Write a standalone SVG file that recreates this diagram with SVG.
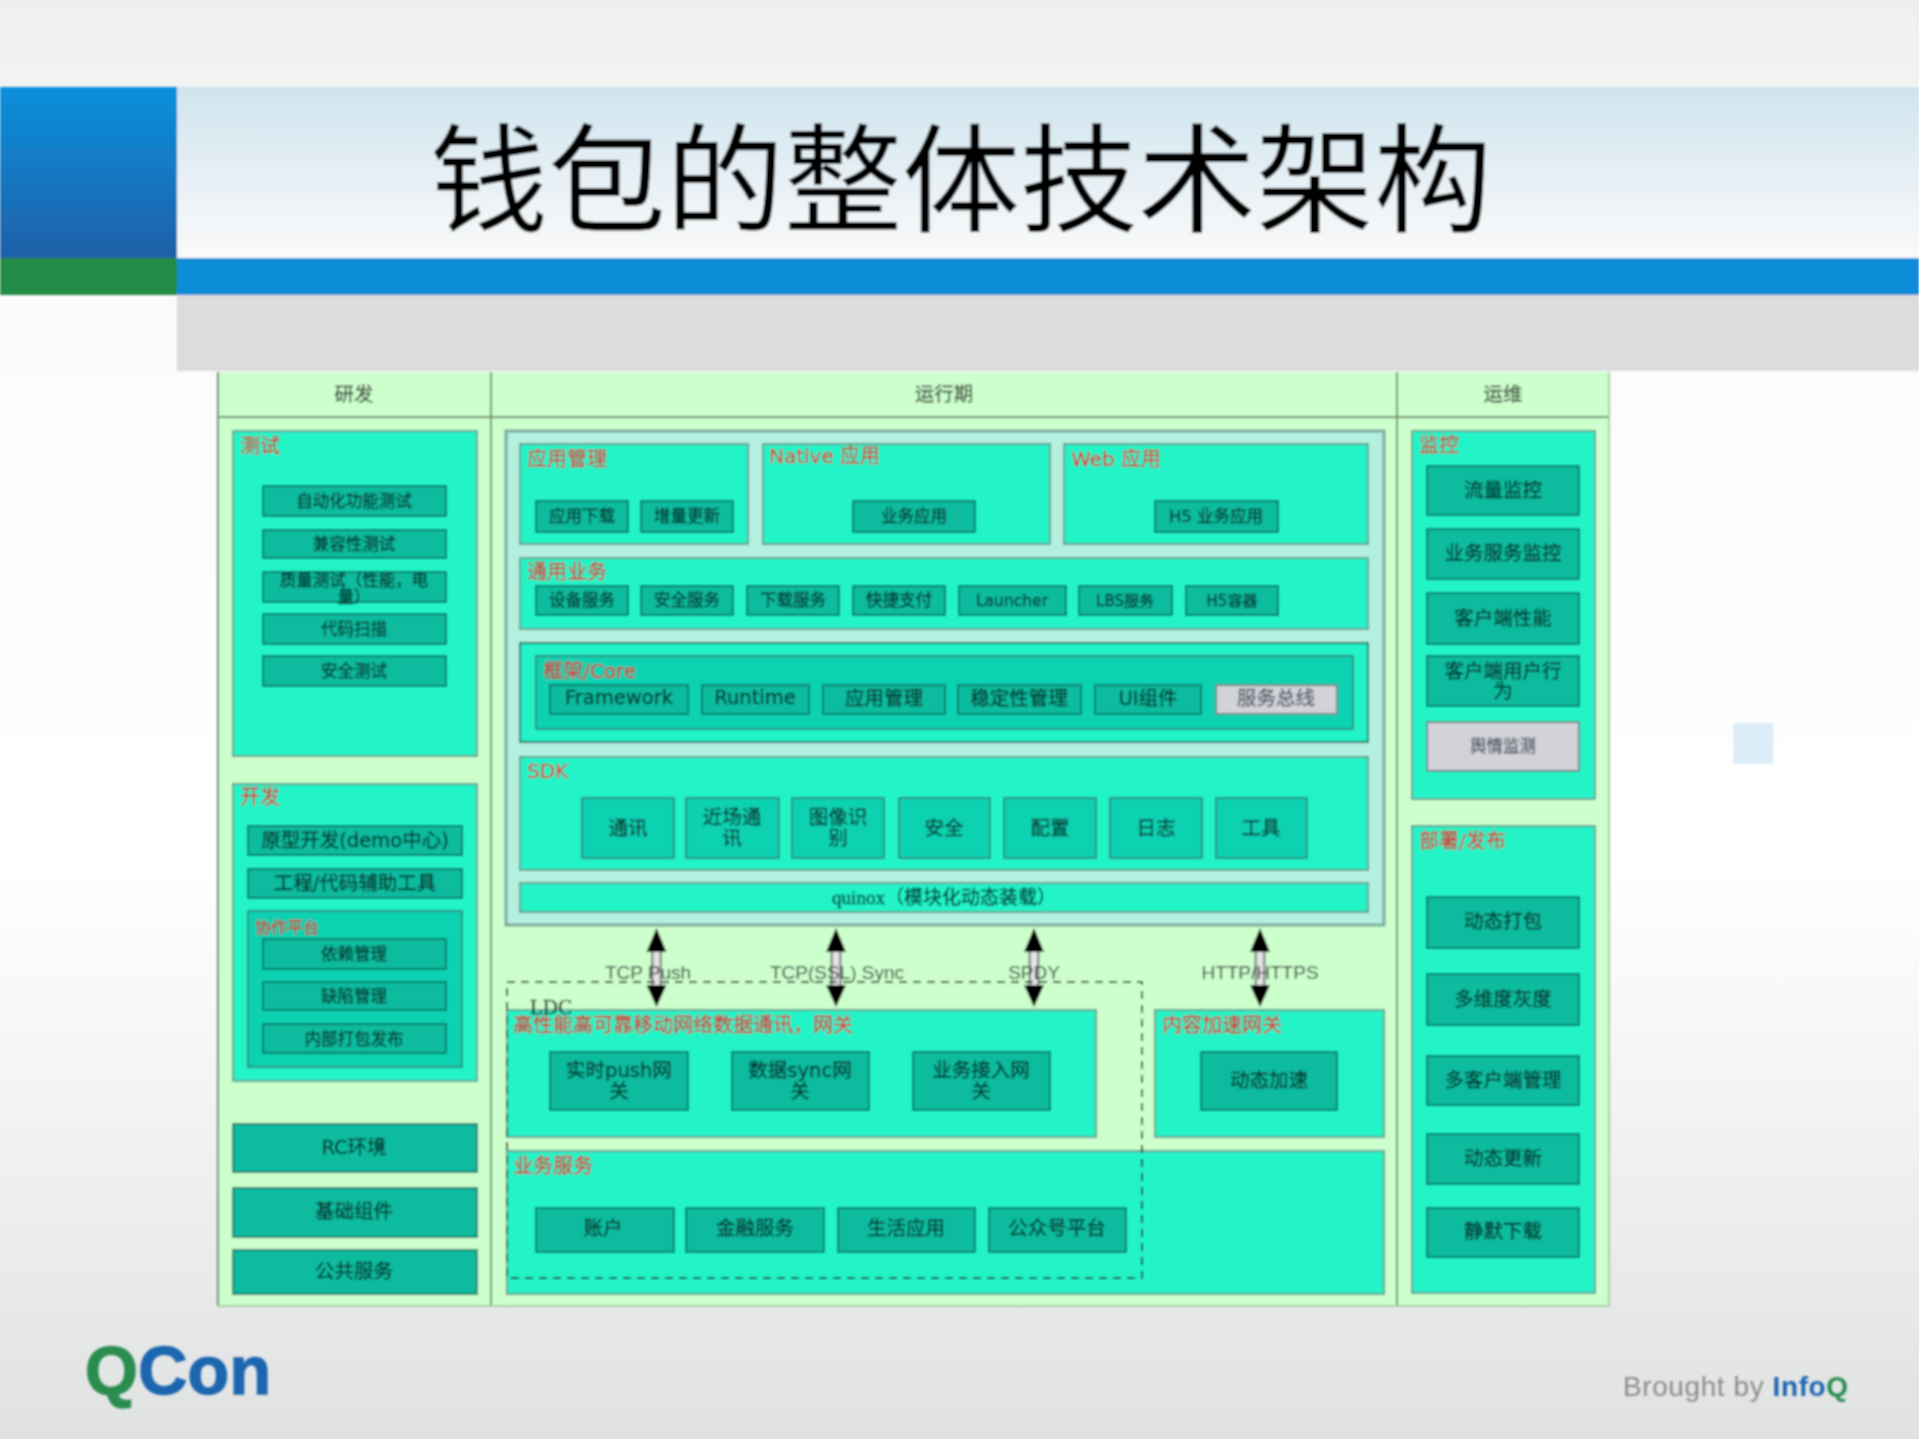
<svg xmlns="http://www.w3.org/2000/svg" width="1919" height="1439" viewBox="0 0 1919 1439">
<style>
text{font-family:"DejaVu Sans","Noto Sans CJK SC",sans-serif}
.p{fill:#24f4c8;stroke:#5f9f8e;stroke-width:2}
.b{fill:#0cbb9f;stroke:#0a7c6b;stroke-width:2}
.c{fill:#10d2b2;stroke:#2a8f7e;stroke-width:2}
.g{fill:#d2d2d8;stroke:#5e8d84;stroke-width:2}
.t{font-size:16.5px;fill:#063c33;stroke:#063c33;stroke-width:.35;text-anchor:middle}
.m{font-size:19.5px;fill:#063c33;stroke:#063c33;stroke-width:.35;text-anchor:middle}
.gt{fill:#55606a;stroke:#55606a}
.r{font-size:20px;fill:#d63a34;stroke:#d63a34;stroke-width:.3}
.h{font-size:19.5px;fill:#3f4d3f;stroke:#3f4d3f;stroke-width:.3;text-anchor:middle}
.l{font-size:19px;fill:#2f3c33;text-anchor:middle;font-family:"Liberation Sans","Noto Sans CJK SC",sans-serif}
.tbl{fill:none;stroke:#6d8a6d;stroke-width:2}
.sh{stroke:#8a8a8a;stroke-width:11;fill:none}
.si{stroke:#e4e4e4;stroke-width:6;fill:none}
</style>
<defs>
<linearGradient id="bg" x1="0" y1="0" x2="0" y2="1"><stop offset="0" stop-color="#efefef"/><stop offset=".2" stop-color="#fbfbfb"/><stop offset=".6" stop-color="#fff"/><stop offset="1" stop-color="#e0e2e2"/></linearGradient>
<linearGradient id="lb" x1="0" y1="0" x2="0" y2="1"><stop offset="0" stop-color="#0a90dc"/><stop offset="1" stop-color="#2060a8"/></linearGradient>
<linearGradient id="hd" x1="0" y1="0" x2="0" y2="1"><stop offset="0" stop-color="#d0e4ef"/><stop offset="1" stop-color="#fafafa"/></linearGradient>
<filter id="soft" filterUnits="userSpaceOnUse" x="0" y="0" width="1919" height="1439"><feGaussianBlur stdDeviation="0.9"/></filter>
</defs>
<rect width="1919" height="1439" fill="url(#bg)"/>
<g filter="url(#soft)">
<g id="header">
<rect x="0" y="87" width="177" height="171" fill="url(#lb)"/>
<rect x="0" y="258" width="177" height="37" fill="#228b45"/>
<rect x="177" y="87" width="1742" height="171" fill="url(#hd)"/>
<rect x="177" y="258" width="1742" height="37" fill="#0a8cd8"/>
<rect x="177" y="295" width="1742" height="76" fill="#dcdcdc"/>
<text x="961" y="223" font-size="118" text-anchor="middle" fill="#000" style="font-family:'Noto Sans CJK SC',sans-serif;font-weight:400">钱包的整体技术架构</text>
</g>
<rect id="deco" x="1733" y="723" width="40" height="41" fill="#dceefa"/>
<g id="table">
<rect x="218" y="372" width="1391" height="934" fill="#ccffcc"/>
<path class="tbl" d="M218 372V1306M491 372V1306M1397 372V1306M218 417H1609"/>
<path d="M1609 372V1306M218 1306H1609" stroke="#a8cfa8" stroke-width="2" fill="none"/>
<text class="h" x="354" y="401">研发</text><text class="h" x="944" y="401">运行期</text><text class="h" x="1503" y="401">运维</text>
</g>
<g id="test"><rect class="p" x="233" y="431" width="244" height="325"/><text class="r" x="240" y="453">测试</text></g>
<g id="t1"><rect class="b" x="263" y="486" width="183" height="30"/><text class="t" x="354" y="507">自动化功能测试</text></g>
<g id="t2"><rect class="b" x="263" y="530" width="183" height="28"/><text class="t" x="354" y="550">兼容性测试</text></g>
<g id="t3"><rect class="b" x="263" y="572" width="183" height="30"/><text class="t" x="354" y="586">质量测试（性能，电<tspan x="354" dy="17">量）</tspan></text></g>
<g id="t4"><rect class="b" x="263" y="614" width="183" height="30"/><text class="t" x="354" y="635">代码扫描</text></g>
<g id="t5"><rect class="b" x="263" y="656" width="183" height="30"/><text class="t" x="354" y="677">安全测试</text></g>

<g id="dev"><rect class="p" x="233" y="784" width="244" height="297"/><text class="r" x="240" y="804">开发</text></g>
<g id="d1"><rect class="b" x="248" y="826" width="214" height="29"/><text class="m" x="355" y="847" style="font-size:19.5px">原型开发(demo中心)</text></g>
<g id="d2"><rect class="b" x="248" y="869" width="214" height="29"/><text class="m" x="355" y="890">工程/代码辅助工具</text></g>
<g id="collab"><rect class="c" x="248" y="911" width="214" height="156"/><text class="r" x="255" y="933" style="font-size:16px">协作平台</text></g>
<g id="d3"><rect class="b" x="263" y="939" width="183" height="30"/><text class="t" x="354" y="960">依赖管理</text></g>
<g id="d4"><rect class="b" x="263" y="982" width="183" height="28"/><text class="t" x="354" y="1002">缺陷管理</text></g>
<g id="d5"><rect class="b" x="263" y="1024" width="183" height="29"/><text class="t" x="354" y="1045">内部打包发布</text></g>
<g id="rc"><rect class="b" x="233" y="1124" width="244" height="48"/><text class="m" x="354" y="1154">RC环境</text></g>
<g id="base"><rect class="b" x="233" y="1188" width="244" height="49"/><text class="m" x="354" y="1218">基础组件</text></g>
<g id="pub"><rect class="b" x="233" y="1250" width="244" height="44"/><text class="m" x="354" y="1278">公共服务</text></g>

<g id="main"><rect x="506" y="431" width="878" height="494" fill="#b4f0e0" stroke="#7aa79c" stroke-width="3"/></g>
<g id="appm"><rect class="p" x="520" y="444" width="228" height="100"/><text class="r" x="527" y="466">应用管理</text></g>
<g id="a1"><rect class="b" x="536" y="501" width="92" height="31"/><text class="t" x="582" y="522">应用下载</text></g>
<g id="a2"><rect class="b" x="641" y="501" width="92" height="31"/><text class="t" x="687" y="522">增量更新</text></g>
<g id="native"><rect class="p" x="763" y="444" width="287" height="100"/><text class="r" x="769" y="463">Native 应用</text></g>
<g id="a3"><rect class="b" x="853" y="501" width="122" height="31"/><text class="t" x="914" y="522">业务应用</text></g>
<g id="web"><rect class="p" x="1064" y="444" width="304" height="100"/><text class="r" x="1071" y="466">Web 应用</text></g>
<g id="a4"><rect class="b" x="1155" y="501" width="123" height="31"/><text class="t" x="1216" y="522">H5 业务应用</text></g>

<g id="common"><rect class="p" x="520" y="558" width="848" height="71"/><text class="r" x="527" y="579">通用业务</text></g>
<g id="s1"><rect class="b" x="536" y="586" width="92" height="29"/><text class="t" x="582" y="606">设备服务</text></g>
<g id="s2"><rect class="b" x="641" y="586" width="92" height="29"/><text class="t" x="687" y="606">安全服务</text></g>
<g id="s3"><rect class="b" x="747" y="586" width="92" height="29"/><text class="t" x="793" y="606">下载服务</text></g>
<g id="s4"><rect class="b" x="853" y="586" width="92" height="29"/><text class="t" x="899" y="606">快捷支付</text></g>
<g id="s5"><rect class="b" x="959" y="586" width="107" height="29"/><text class="t" x="1012" y="606" style="font-size:15.5px">Launcher</text></g>
<g id="s6"><rect class="b" x="1079" y="586" width="93" height="29"/><text class="t" x="1125" y="606" style="font-size:15px">LBS服务</text></g>
<g id="s7"><rect class="b" x="1186" y="586" width="92" height="29"/><text class="t" x="1232" y="606" style="font-size:15px">H5容器</text></g>

<g id="coreo"><rect x="520" y="643" width="848" height="99" fill="#24f4c8" stroke="#1f6f60" stroke-width="2"/></g>
<g id="core"><rect class="c" x="536" y="656" width="817" height="73"/><text class="r" x="543" y="678">框架/Core</text></g>
<g id="c1"><rect class="b" x="550" y="685" width="138" height="29"/><text class="m" x="619" y="704">Framework</text></g>
<g id="c2"><rect class="b" x="702" y="685" width="107" height="29"/><text class="m" x="755" y="704">Runtime</text></g>
<g id="c3"><rect class="b" x="823" y="685" width="122" height="29"/><text class="m" x="884" y="705">应用管理</text></g>
<g id="c4"><rect class="b" x="958" y="685" width="123" height="29"/><text class="m" x="1019" y="705">稳定性管理</text></g>
<g id="c5"><rect class="b" x="1095" y="685" width="106" height="29"/><text class="m" x="1148" y="705">UI组件</text></g>
<g id="c6"><rect class="g" x="1216" y="685" width="121" height="29"/><text class="m gt" x="1276" y="705">服务总线</text></g>

<g id="sdk"><rect class="p" x="520" y="757" width="848" height="113"/><text class="r" x="527" y="778">SDK</text></g>
<g id="k1"><rect class="c" x="582" y="798" width="92" height="60"/><text class="m" x="628" y="835">通讯</text></g>
<g id="k2"><rect class="c" x="686" y="798" width="93" height="60"/><text class="m" x="732" y="824">近场通<tspan x="732" dy="21">讯</tspan></text></g>
<g id="k3"><rect class="c" x="792" y="798" width="92" height="60"/><text class="m" x="838" y="824">图像识<tspan x="838" dy="21">别</tspan></text></g>
<g id="k4"><rect class="c" x="899" y="798" width="91" height="60"/><text class="m" x="944" y="835">安全</text></g>
<g id="k5"><rect class="c" x="1004" y="798" width="92" height="60"/><text class="m" x="1050" y="835">配置</text></g>
<g id="k6"><rect class="c" x="1110" y="798" width="92" height="60"/><text class="m" x="1156" y="835">日志</text></g>
<g id="k7"><rect class="c" x="1216" y="798" width="91" height="60"/><text class="m" x="1261" y="835">工具</text></g>
<g id="quinox"><rect class="p" x="520" y="883" width="848" height="29"/><text class="m" x="944" y="904" style="font-size:19px;font-family:'Liberation Serif','Noto Sans CJK SC',serif">quinox（模块化动态装载）</text></g>

<g id="gw"><rect class="p" x="507" y="1010" width="589" height="127"/><text class="r" x="513" y="1032">高性能高可靠移动网络数据通讯，网关</text></g>
<g id="g1"><rect class="b" x="550" y="1052" width="138" height="58"/><text class="m" x="619" y="1077">实时push网<tspan x="619" dy="21">关</tspan></text></g>
<g id="g2"><rect class="b" x="732" y="1052" width="137" height="58"/><text class="m" x="800" y="1077">数据sync网<tspan x="800" dy="21">关</tspan></text></g>
<g id="g3"><rect class="b" x="913" y="1052" width="137" height="58"/><text class="m" x="981" y="1077">业务接入网<tspan x="981" dy="21">关</tspan></text></g>
<g id="cdn"><rect class="p" x="1155" y="1010" width="229" height="127"/><text class="r" x="1162" y="1032">内容加速网关</text></g>
<g id="g4"><rect class="b" x="1201" y="1052" width="136" height="58"/><text class="m" x="1269" y="1087">动态加速</text></g>
<g id="biz"><rect class="p" x="507" y="1151" width="877" height="143"/><text class="r" x="513" y="1173">业务服务</text></g>
<g id="b1"><rect class="b" x="536" y="1208" width="138" height="44"/><text class="m" x="603" y="1235">账户</text></g>
<g id="b2"><rect class="b" x="686" y="1208" width="138" height="44"/><text class="m" x="755" y="1235">金融服务</text></g>
<g id="b3"><rect class="b" x="838" y="1208" width="137" height="44"/><text class="m" x="906" y="1235">生活应用</text></g>
<g id="b4"><rect class="b" x="989" y="1208" width="137" height="44"/><text class="m" x="1057" y="1235">公众号平台</text></g>

<g id="monitor"><rect class="p" x="1412" y="431" width="183" height="368"/><text class="r" x="1419" y="452">监控</text></g>
<g id="m1"><rect class="b" x="1427" y="466" width="152" height="49"/><text class="m" x="1503" y="497">流量监控</text></g>
<g id="m2"><rect class="b" x="1427" y="529" width="152" height="50"/><text class="m" x="1503" y="560">业务服务监控</text></g>
<g id="m3"><rect class="b" x="1427" y="593" width="152" height="51"/><text class="m" x="1503" y="625">客户端性能</text></g>
<g id="m4"><rect class="b" x="1427" y="656" width="152" height="50"/><text class="m" x="1503" y="678">客户端用户行<tspan x="1503" dy="20">为</tspan></text></g>
<g id="m5"><rect class="g" x="1427" y="722" width="152" height="49"/><text class="t gt" x="1503" y="752">舆情监测</text></g>
<g id="deploy"><rect class="p" x="1412" y="826" width="183" height="467"/><text class="r" x="1419" y="848">部署/发布</text></g>
<g id="e1"><rect class="b" x="1427" y="897" width="152" height="51"/><text class="m" x="1503" y="928">动态打包</text></g>
<g id="e2"><rect class="b" x="1427" y="974" width="152" height="51"/><text class="m" x="1503" y="1006">多维度灰度</text></g>
<g id="e3"><rect class="b" x="1427" y="1056" width="152" height="49"/><text class="m" x="1503" y="1087">多客户端管理</text></g>
<g id="e4"><rect class="b" x="1427" y="1134" width="152" height="50"/><text class="m" x="1503" y="1165">动态更新</text></g>
<g id="e5"><rect class="b" x="1427" y="1208" width="152" height="49"/><text class="m" x="1503" y="1238">静默下载</text></g>

<g id="connectors">
<line class="sh" x1="656.500" y1="945" x2="656.500" y2="990"/><line class="si" x1="656.500" y1="945" x2="656.500" y2="990"/>
<line class="sh" x1="836" y1="945" x2="836" y2="990"/><line class="si" x1="836" y1="945" x2="836" y2="990"/>
<line class="sh" x1="1034" y1="945" x2="1034" y2="990"/><line class="si" x1="1034" y1="945" x2="1034" y2="990"/>
<line class="sh" x1="1260" y1="945" x2="1260" y2="990"/><line class="si" x1="1260" y1="945" x2="1260" y2="990"/>
<path d="M656.500 928l-10 24h20zM836 928l-10 24h20zM1034 928l-10 24h20zM1260 928l-10 24h20zM656.500 1007l-10-22h20zM836 1007l-10-22h20zM1034 1007l-10-22h20zM1260 1007l-10-22h20z" fill="#000"/>
</g>
<g id="ldc">
<rect x="507" y="982" width="635" height="296" fill="none" stroke="#222" stroke-width="2" stroke-dasharray="8 6"/>
<text x="530" y="1014" font-size="21" fill="#142018" stroke="#142018" stroke-width=".3" style="font-family:'Liberation Serif',serif">LDC</text>
</g>
<g id="labels">
<text class="l" x="648" y="979">TCP Push</text>
<text class="l" x="837" y="979">TCP(SSL) Sync</text>
<text class="l" x="1034" y="979">SPDY</text>
<text class="l" x="1260" y="979">HTTP/HTTPS</text>
</g>
<g id="logo">
<text x="85" y="1394" font-size="68" font-weight="700" stroke-width="1.500" style="font-family:'Liberation Sans',sans-serif" textLength="186"><tspan fill="#2a8d50" stroke="#2a8d50">Q</tspan><tspan fill="#1f66b0" stroke="#1f66b0">Con</tspan></text>
<text x="1623" y="1396" font-size="28" fill="#8a8a8a" style="font-family:'Liberation Sans',sans-serif" textLength="225">Brought by <tspan fill="#1f66b0" font-weight="700">Info</tspan><tspan fill="#2a8d50" font-weight="700">Q</tspan></text>
</g>
</g>
</svg>
